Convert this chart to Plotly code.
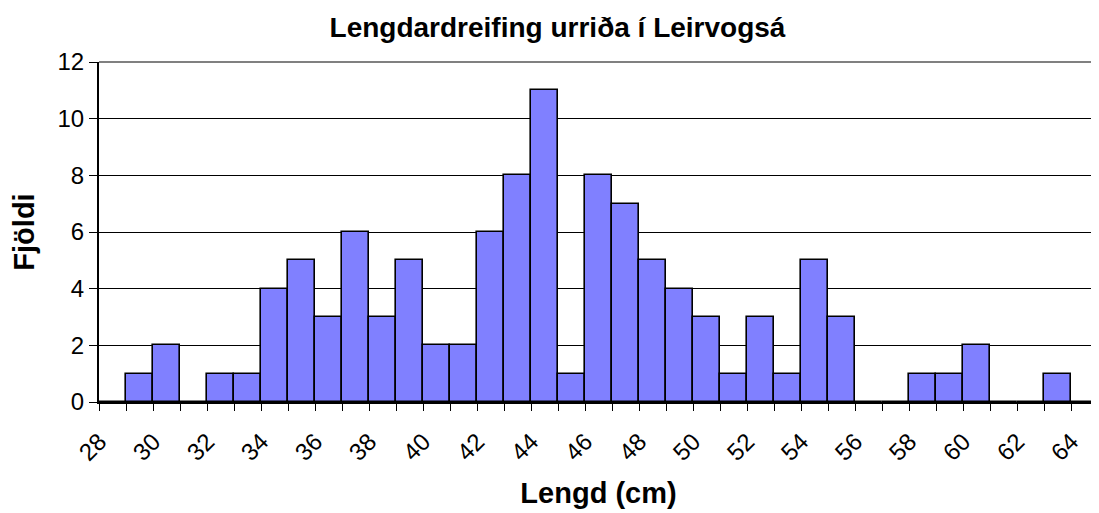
import plotly.graph_objects as go

lengths = list(range(28, 65))
counts = [0, 1, 2, 0, 1, 1, 4, 5, 3, 6, 3, 5, 2, 2, 6, 8, 11, 1, 8, 7, 5, 4, 3, 1, 3, 1,
          5, 3, 0, 0, 1, 1, 2, 0, 0, 1, 0]
tick_labels = list(range(28, 65, 2))
y_ticks = [0, 2, 4, 6, 8, 10, 12]

font = "Liberation Sans, Arial, sans-serif"

fig = go.Figure()
fig.add_trace(go.Bar(
    x=lengths, y=counts, width=1,
    marker=dict(color="#8080FF", line=dict(color="black", width=1.6)),
    xaxis="x", yaxis="y",
))
fig.add_trace(go.Scatter(x=[lengths[0], lengths[-1]], y=[0, 0], mode="none",
                         xaxis="x2", yaxis="y", showlegend=False, hoverinfo="skip"))

fig.update_layout(
    width=1099, height=513,
    margin=dict(l=91, r=9, t=54, b=119),
    paper_bgcolor="white", plot_bgcolor="white",
    showlegend=False,
    bargap=0,
    title=dict(text="<b>Lengdardreifing urriða í Leirvogsá</b>", x=0.5, xanchor="center",
               y=0.963, yanchor="middle", font=dict(family=font, size=28, color="black")),
    xaxis=dict(
        range=[27.5, 64.5], tickmode="array", tickvals=tick_labels,
        ticktext=[str(v) for v in tick_labels], tickangle=-45,
        ticks="", showgrid=False, zeroline=False, showline=True,
        linecolor="black", linewidth=2, automargin=False,
        ticklabelshift=-13, ticklabelstandoff=14,
        tickfont=dict(family=font, size=24, color="black"),
        title=dict(text="<b>Lengd (cm)</b>", font=dict(family=font, size=29, color="black"),
                   standoff=18),
    ),
    xaxis2=dict(
        range=[27.5, 64.5], overlaying="x", side="bottom", anchor="y",
        tickmode="array", tickvals=[v - 0.5 for v in lengths] + [lengths[-1] + 0.5],
        ticks="outside", ticklen=8, tickwidth=1, tickcolor="black", automargin=False,
        showticklabels=False, showgrid=False, zeroline=False, showline=False,
    ),
    yaxis=dict(
        range=[0, 12], tickmode="array", tickvals=y_ticks,
        ticks="outside", ticklen=8, tickwidth=1, tickcolor="black",
        showgrid=True, gridcolor="black", gridwidth=1, automargin=False,
        zeroline=False, showline=True, linecolor="black", linewidth=2,
        tickfont=dict(family=font, size=24, color="black"),
        title=dict(text="<b>Fjöldi</b>", font=dict(family=font, size=29, color="black"),
                   standoff=15),
    ),
    shapes=[
        dict(type="line", xref="paper", yref="paper", x0=0, x1=1, y0=1, y1=1,
             line=dict(color="#808080", width=2)),
        dict(type="line", xref="paper", yref="paper", x0=1, x1=1, y0=0, y1=1,
             line=dict(color="#808080", width=2)),
    ],
)

fig.write_html("out.html")
